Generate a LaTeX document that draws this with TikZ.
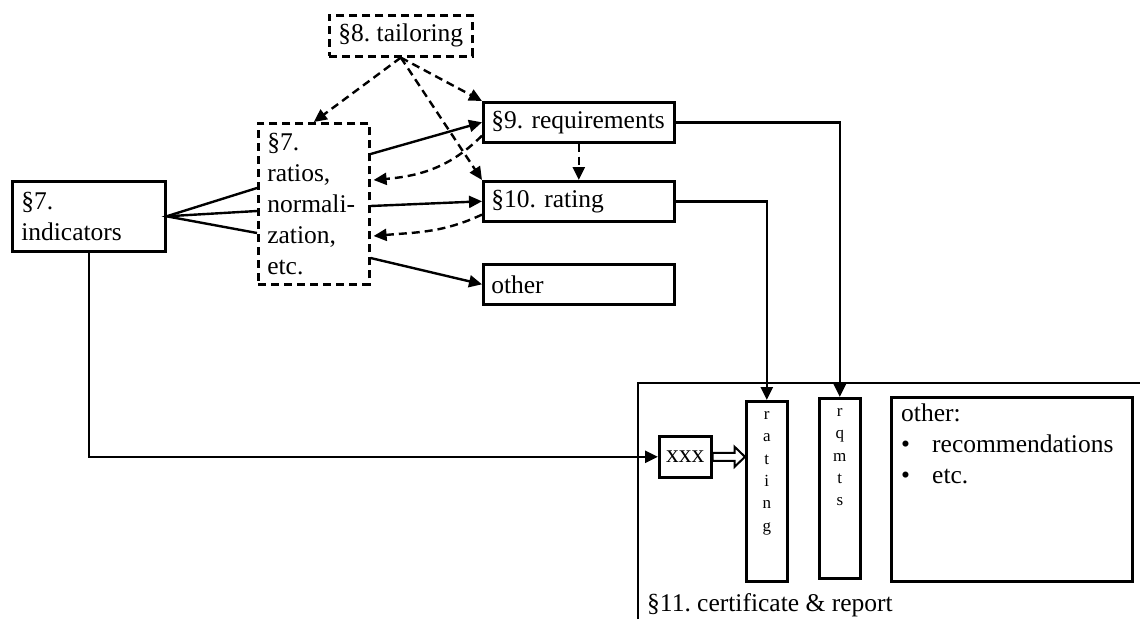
\documentclass[tikz,border=0pt]{standalone}
\usepackage{fontspec}
\setmainfont{Liberation Serif}
\usetikzlibrary{arrows.meta,calc}
\begin{document}
\frenchspacing
\begin{tikzpicture}[x=1pt,y=1pt,
  every node/.style={font=\fontsize{25.5}{31}\selectfont},
  box/.style={draw, line width=2.6pt, anchor=north west, inner xsep=9pt, inner ysep=0pt, align=left},
  dbox/.style={box, dash pattern=on 8pt off 5pt},
  conn/.style={line width=2.4pt},
  arr/.style={conn, -{Triangle[length=13pt,width=12pt]}},
  darr/.style={arr, dash pattern=on 8pt off 5pt},
  small/.style={font=\fontsize{17}{22.4}\selectfont, align=center, inner sep=0pt}
]
\useasboundingbox (0,0) rectangle (1140,-619);

% nodes
\node[dbox, minimum width=143pt, minimum height=41pt, align=center] (tail) at (328,-14) {\S8. tailoring};
\node[dbox, minimum height=161pt, text width=93pt] (ratios) at (257,-122) {\S7.\\ratios,\\normali-\\zation,\\etc.};
\node[box, minimum height=70pt, text width=135pt] (ind) at (11,-180) {\S7.\\indicators};
\node[box, minimum height=40pt, text width=175pt, inner xsep=8pt] (req) at (482,-101) {\mbox{\S9. requirements}};
\node[box, minimum height=40pt, text width=175pt, inner xsep=8pt] (rat) at (482,-180) {\mbox{\S10. rating}};
\node[box, minimum height=40pt, text width=175pt, inner xsep=8pt] (oth) at (482,-263) {other};

% certificate frame
\coordinate (cbl) at (638,-619);
\coordinate (ctl) at (638,-383);
\coordinate (ctr) at (1140,-383);
\draw[conn] (cbl) -- (ctl) -- (ctr);
\node[anchor=base west, inner sep=0pt] (cert) at (647,-611) {\S11. certificate \& report};

\node[box, minimum width=52pt, minimum height=41pt, inner xsep=0pt, align=center] (xxx) at (658,-435) {xxx};
\node[box, minimum width=41pt, minimum height=180pt, inner xsep=0pt] (ratingbox) at (745,-400) {};
\node[box, minimum width=41pt, minimum height=180pt, inner xsep=0pt] (rqmtsbox) at (818,-397) {};
\node[box, minimum width=241pt, minimum height=184pt, inner xsep=0pt] (otherbox) at (890,-396) {};
\node[small, anchor=north] (ratingtxt) at ($(ratingbox.north)+(0,-11)$) {r\\a\\t\\i\\n\\g};
\node[small, anchor=north] (rqmtstxt) at ($(rqmtsbox.north)+(0,-11)$) {r\\q\\m\\t\\s};
\node[anchor=north west, inner sep=0pt, align=left] (othertxt) at ($(otherbox.north west)+(11,-8)$)
  {other:\\\makebox[31pt][l]{\textbullet}recommendations\\\makebox[31pt][l]{\textbullet}etc.};

% fan from indicators
\coordinate (f1) at ($(ratios.north west)+(0,-66)$);
\coordinate (f2) at ($(ratios.north west)+(0,-89)$);
\coordinate (f3) at ($(ratios.north west)+(0,-111)$);
\draw[conn] (f1) -- (ind.east) -- (f3);
\draw[conn] (ind.east) -- (f2);

% ratios to right boxes
\draw[arr] ($(ratios.north east)+(0,-32)$) -- (req.west);
\draw[arr] ($(ratios.north east)+(0,-84)$) -- (rat.west);
\draw[arr] ($(ratios.north east)+(0,-136)$) -- (oth.west);

% dashed feedback
\draw[darr] ($(req.south west)+(0,8)$) to[out=225, in=5] ($(ratios.north east)+(3,-58)$);
\draw[darr] ($(rat.south west)+(0,8)$) to[out=205, in=5] ($(ratios.north east)+(3,-114)$);

% tailoring
\draw[darr] (tail.south) -- (ratios.north);
\draw[darr] (tail.south) -- (req.north west);
\draw[darr] (tail.south) -- (rat.north west);
\draw[darr] (req.south) -- (rat.north);

% to certificate
\draw[arr] (req.east) -| (rqmtsbox.north);
\draw[arr] (rat.east) -| (ratingbox.north);
\draw[arr] (ind.south) |- (xxx.west);

% hollow arrow
\draw[line width=2pt, fill=white, line join=miter]
  ($(xxx.east)+(0,4)$) -- ($(xxx.east)+(22,4)$) -- ($(xxx.east)+(22,10)$) -- (ratingbox.west |- xxx.east)
  -- ($(xxx.east)+(22,-10)$) -- ($(xxx.east)+(22,-4)$) -- ($(xxx.east)+(0,-4)$) -- cycle;
\end{tikzpicture}
\end{document}
